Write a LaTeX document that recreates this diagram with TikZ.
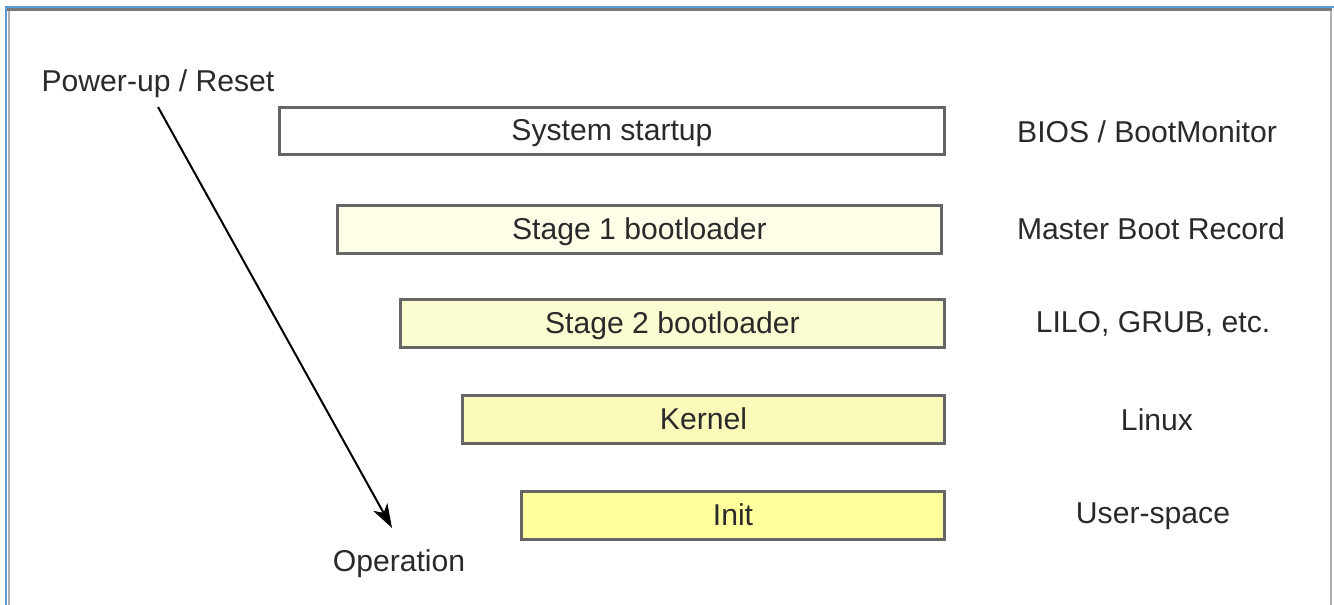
\documentclass[tikz,border=0pt]{standalone}
\usepackage{fontspec}
\setmainfont{Liberation Sans}
\usetikzlibrary{arrows.meta}
\definecolor{frameblue}{HTML}{5B9BD5}
\definecolor{framegrey}{HTML}{7A7A7A}
\definecolor{boxline}{HTML}{666666}
\definecolor{fillA}{HTML}{FEFEE8}
\definecolor{fillB}{HTML}{FCFCD2}
\definecolor{fillC}{HTML}{F9F9BA}
\definecolor{fillD}{HTML}{FFFF9C}
\definecolor{txt}{HTML}{2A2A2A}
\tikzset{
  stagebox/.style={draw=boxline, line width=2.2pt, anchor=north west, inner sep=0pt, text=txt,
    text height=16pt, text depth=1.5pt,
    font=\fontsize{22.6}{27}\selectfont},
  sidelabel/.style={text=txt, font=\fontsize{22.6}{27}\selectfont, anchor=center},
}
\begin{document}
\begin{tikzpicture}[x=0.75pt,y=-0.75pt]
\useasboundingbox (0,0) rectangle (1334,605);
\fill[white] (0,0) rectangle (1334,605);
% frame
\draw[framegrey!60, line width=1.2pt] (9,605) -- (9,10) -- (1331,10) -- (1331,605);
\draw[framegrey, line width=2pt] (7,9.5) -- (1332,9.5);
\draw[frameblue, line width=2pt] (6,605) -- (6,7) -- (1334,7);
% boxes
\node[stagebox, fill=white, minimum width=665*0.75pt, minimum height=47*0.75pt] (sys) at (278,106) {System startup};
\node[stagebox, fill=fillA, minimum width=604*0.75pt, minimum height=48*0.75pt] (st1) at (336,204) {Stage 1 bootloader};
\node[stagebox, fill=fillB, minimum width=544*0.75pt, minimum height=48*0.75pt] (st2) at (399,298) {Stage 2 bootloader};
\node[stagebox, fill=fillC, minimum width=482*0.75pt, minimum height=48*0.75pt] (ker) at (461,394) {Kernel};
\node[stagebox, fill=fillD, minimum width=423*0.75pt, minimum height=48*0.75pt] (ini) at (520,490) {Init};
% side labels
\node[sidelabel] (l1) at (1147,132) {BIOS / BootMonitor};
\node[sidelabel] (l2) at (1151,229) {Master Boot Record};
\node[sidelabel] (l3) at (1153,324) {LILO, GRUB, etc.};
\node[sidelabel] (l4) at (1157,420) {Linux};
\node[sidelabel] (l5) at (1153,516) {User-space};
% arrow
\node[sidelabel] (pw) at (158,84) {Power-up / Reset};
\node[sidelabel] (op) at (399,564) {Operation};
\coordinate (a0) at (158,107);
\coordinate (a1) at (392,528);
\draw[line width=1.5pt, -{Stealth[length=18pt,width=12pt,inset=5pt]}] (a0) -- (a1);
\end{tikzpicture}
\end{document}
